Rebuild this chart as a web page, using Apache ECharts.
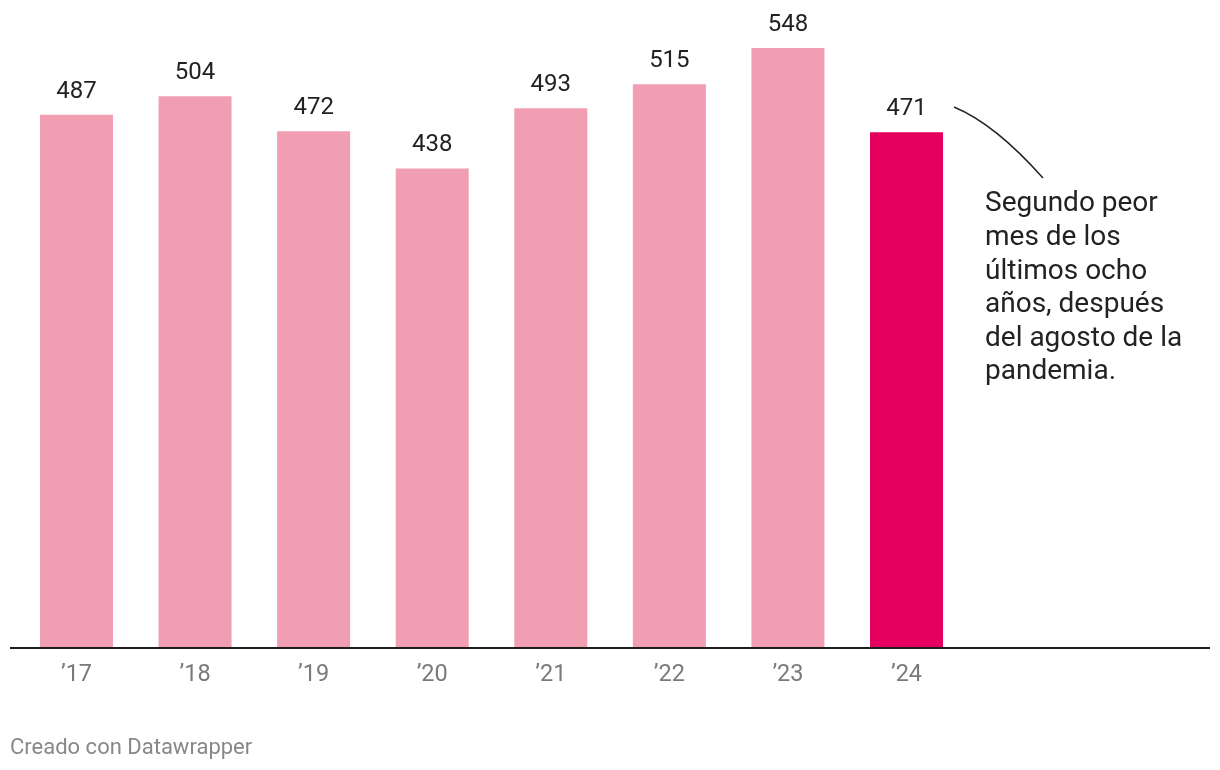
<!DOCTYPE html>
<html>
<head>
<meta charset="utf-8">
<script src="https://cdn.jsdelivr.net/npm/echarts@6/dist/echarts.min.js"></script>
<style>
html,body{margin:0;padding:0;background:#fff;}
#main{width:1220px;height:770px;}
</style>
</head>
<body>
<div id="main"></div>
<script>
var categories = ['\u201917','\u201918','\u201919','\u201920','\u201921','\u201922','\u201923','\u201924'];
var values = [487, 504, 472, 438, 493, 515, 548, 471];
var highlightIndex = 7;
var annotationLines = ['Segundo peor','mes de los','últimos ocho','años, después','del agosto de la','pandemia.'];
var footerText = 'Creado con Datawrapper';

var chart = echarts.init(document.getElementById('main'));
var FONT = 'Roboto';
chart.setOption({
  animation: false,
  grid: { left: 17.2, right: 254.2, top: 48, bottom: 122, containLabel: false },
  xAxis: {
    type: 'category',
    data: categories,
    axisLine: { show: false },
    axisTick: { show: false },
    axisLabel: { color: '#7a7a7a', fontFamily: FONT, fontSize: 23.5, margin: 15.5 }
  },
  yAxis: {
    type: 'value', min: 0, max: 548,
    show: false,
    splitLine: { show: false }
  },
  series: [{
    type: 'bar',
    barWidth: 73,
    data: values.map(function (v, i) {
      return { value: v, itemStyle: { color: i === highlightIndex ? '#e5005f' : '#f29eb2' } };
    }),
    label: {
      show: true, position: 'top', distance: 11,
      color: '#222', fontFamily: FONT, fontSize: 24
    }
  }],
  graphic: [
    { type: 'line', shape: { x1: 10, y1: 648, x2: 1210, y2: 648 }, style: { stroke: '#1d1d1d', lineWidth: 2 }, z: 10 },
    { type: 'bezierCurve', shape: { x1: 954, y1: 107, cpx1: 995, cpy1: 124, x2: 1043, y2: 178 }, style: { stroke: '#222', lineWidth: 1.5, fill: null } },
    { type: 'text', left: 985, top: 187.5, style: { text: annotationLines.join('\n'), fontFamily: FONT, fontSize: 28, lineHeight: 33.6, fill: '#222' } },
    { type: 'text', left: 10, top: 737, style: { text: footerText, fontFamily: FONT, fontSize: 22, fill: '#888' } }
  ]
});
</script>
</body>
</html>
